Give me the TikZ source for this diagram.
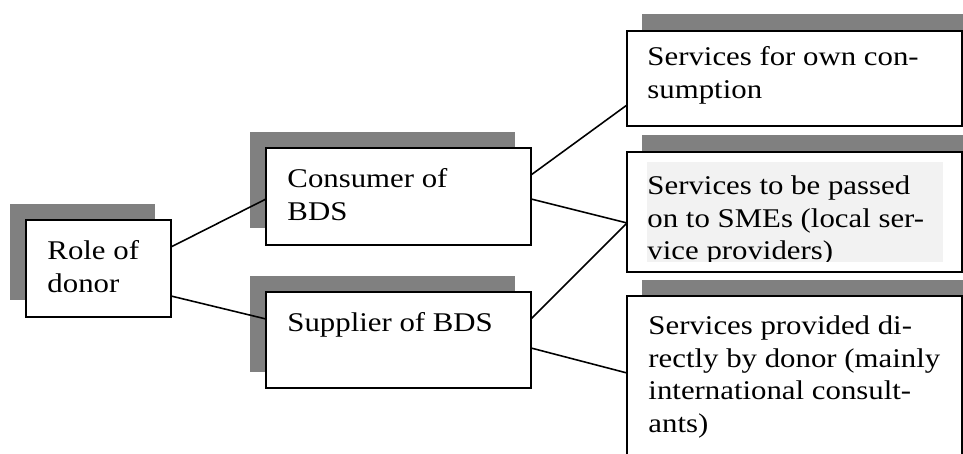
\documentclass[tikz,border=0pt]{standalone}
\usepackage{fontspec}
\setmainfont{Liberation Serif}[FakeStretch=1.14]
\usepackage{tikz}
\usetikzlibrary{positioning, calc}

\definecolor{shadowgray}{HTML}{808080}
\definecolor{passgray}{HTML}{F2F2F2}
\newcommand{\pxu}{0.444pt}

\begin{document}
\begin{tikzpicture}[
    x=\pxu, y=\pxu,
    shadowrect/.style={rectangle, fill=shadowgray, inner sep=0pt, outer sep=0pt, anchor=north west},
    textbox/.style={rectangle, draw, fill=white, line width=0.9pt, inner sep=0pt, outer sep=0pt, anchor=north west},
    boxtext/.style={anchor=base west, align=left, inner sep=0pt, font=\fontsize{12pt}{14.4pt}\selectfont},
    link/.style={line width=0.7pt}
]
    \path[use as bounding box, clip] (0,0) rectangle (963,454);

    % Role of donor (text placed by its last baseline)
    \node[shadowrect, minimum width=145*\pxu, minimum height=96*\pxu] (roleshadow) at (10,250) {};
    \node[textbox, minimum width=145*\pxu, minimum height=97*\pxu] (role) at (26,234) {};
    \node[boxtext] (roletext) at (47,161.6) {Role of\\donor};

    % Consumer of BDS
    \node[shadowrect, minimum width=265*\pxu, minimum height=96*\pxu] (consumershadow) at (250,322) {};
    \node[textbox, minimum width=265*\pxu, minimum height=97*\pxu] (consumer) at (266,306) {};
    \node[boxtext] (consumertext) at (287,233.6) {Consumer of\\BDS};

    % Supplier of BDS
    \node[shadowrect, minimum width=265*\pxu, minimum height=96*\pxu] (suppliershadow) at (250,178) {};
    \node[textbox, minimum width=265*\pxu, minimum height=96*\pxu] (supplier) at (266,162) {};
    \node[boxtext] (suppliertext) at (287,122) {Supplier of BDS};

    % Services for own consumption
    \node[shadowrect, minimum width=335*\pxu, minimum height=95*\pxu] (ownshadow) at (642,440) {};
    \node[textbox, minimum width=335*\pxu, minimum height=95*\pxu] (own) at (627,423) {};
    \node[boxtext] (owntext) at (647,355.6) {Services for own con-\\sumption};

    % Services passed on to SMEs
    \node[shadowrect, minimum width=335*\pxu, minimum height=120*\pxu] (passshadow) at (642,319) {};
    \node[textbox, minimum width=335*\pxu, minimum height=120*\pxu] (pass) at (627,302) {};
    \node[fill=passgray, inner sep=0pt, anchor=north west, minimum width=296*\pxu, minimum height=100*\pxu] (passfill) at (647,292) {};
    \begin{scope}
        \clip (647,192) rectangle (943,292);
        \node[boxtext] (passtext) at (647,194.5) {Services to be passed\\on to SMEs (local ser-\\vice providers)};
    \end{scope}

    % Services provided directly
    \node[shadowrect, minimum width=335*\pxu, minimum height=184*\pxu] (directshadow) at (642,174) {};
    \node[textbox, minimum width=335*\pxu, minimum height=184*\pxu] (direct) at (627,158) {};
    \node[boxtext] (directtext) at (648,21.8) {Services provided di-\\rectly by donor (mainly\\international consult-\\ants)};

    % connectors
    \draw[link] ($(role.east)+(0,21.5)$) -- ($(consumer.west)+(0,-2.5)$);
    \draw[link] ($(role.east)+(0,-27.5)$) -- ($(supplier.west)+(0,21)$);
    \draw[link] ($(consumer.east)+(0,21.5)$) -- ($(own.west)+(0,-26.5)$);
    \draw[link] ($(consumer.east)+(0,-2.5)$) -- ($(pass.west)+(0,-11)$);
    \draw[link] ($(supplier.east)+(0,21)$) -- ($(pass.west)+(0,-11)$);
    \draw[link] ($(supplier.east)+(0,-8)$) -- ($(direct.west)+(0,15)$);
\end{tikzpicture}
\end{document}
